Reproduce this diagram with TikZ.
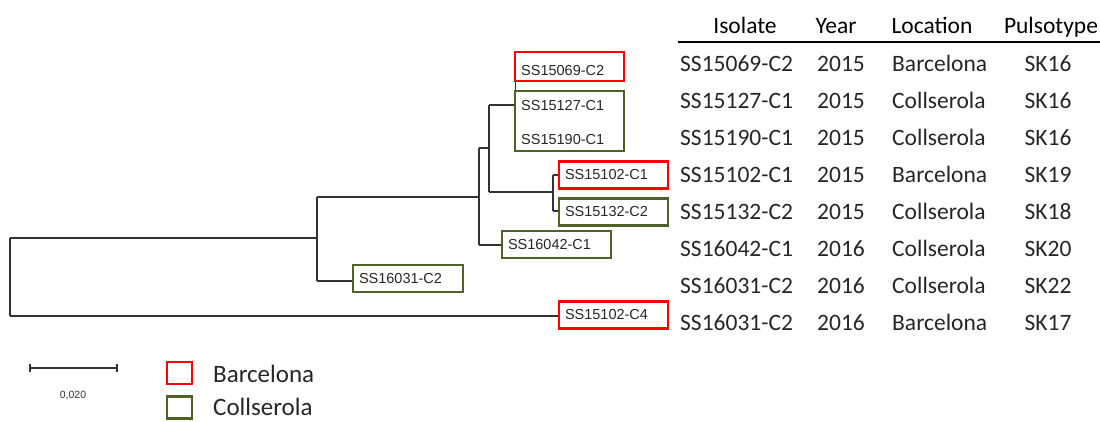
\documentclass[tikz,border=0pt]{standalone}
\usepackage{fontspec}
\setmainfont{Carlito}
\newfontfamily\arialfont{Liberation Sans}
\definecolor{bred}{RGB}{255,0,0}
\definecolor{bgreen}{RGB}{79,98,40}
\begin{document}
\begin{tikzpicture}[x=1pt,y=-1pt,
  tree/.style={draw=black!80, line width=1.2pt},
  leaf/.style={rectangle, line width=2.4pt, inner xsep=6pt, inner ysep=0pt,
    minimum height=27pt, text width=97pt, align=left,
    font=\arialfont\fontsize{14.5}{16}\selectfont, text=black!85},
  redleaf/.style={leaf, draw=bred},
  greenleaf/.style={leaf, draw=bgreen},
  leaftext/.style={anchor=west, inner sep=0pt, font=\arialfont\fontsize{14.5}{16}\selectfont, text=black!85},
  cell/.style={inner sep=0pt, font=\fontsize{23.5}{28}\selectfont, text=black!85},
  head/.style={inner sep=0pt, anchor=base, font=\fontsize{23.5}{28}\selectfont, text=black},
  legbox/.style={rectangle, line width=2.4pt, minimum width=25pt, minimum height=22pt, inner sep=0pt},
  legtext/.style={inner sep=0pt, anchor=base west, font=\fontsize{25}{30}\selectfont, text=black!85}
]
\useasboundingbox (0,0) rectangle (1100,421);

% leaf boxes
\node[redleaf, minimum height=29pt] (b1) at (569.5,66.5) {};
\node[leaftext] (t1) at (521,70.5) {SS15069-C2};
\node[greenleaf, minimum height=60pt] (bG) at (569.5,121) {};
\node[leaftext] (t2) at (521,106) {SS15127-C1};
\node[leaftext] (t3) at (521,140) {SS15190-C1};
\node[redleaf]   (b3) at (613.5,175) {SS15102-C1};
\node[greenleaf] (b4) at (613.5,212) {SS15132-C2};
\node[greenleaf] (b5) at (556.5,244.5) {SS16042-C1};
\node[greenleaf, text width=98pt] (b6) at (408,278.5) {SS16031-C2};
\node[redleaf]   (b7) at (613.5,315) {SS15102-C4};

% tree coordinates
\coordinate (rA) at (10,238);
\coordinate (rB) at (10,316);
\coordinate (n1A) at (317,197);
\coordinate (n1) at (317,238);
\coordinate (n1B) at (317,281);
\coordinate (n2A) at (479,148);
\coordinate (n2) at (479,197);
\coordinate (n2B) at (479,245);
\coordinate (n3A) at (489,105);
\coordinate (n3) at (489,148);
\coordinate (n3B) at (489,192);
\coordinate (n4A) at (553,175);
\coordinate (n4) at (553,192);
\coordinate (n4B) at (553,211);

\draw[tree] (rA) -- (rB);
\draw[tree] (rA) -- (n1);
\draw[tree] (rB) -- (rB -| b7.west);
\draw[tree] (n1A) -- (n1B);
\draw[tree] (n1B) -- (n1B -| b6.west);
\draw[tree] (n1A) -- (n2);
\draw[tree] (n2A) -- (n2B);
\draw[tree] (n2B) -- (n2B -| b5.west);
\draw[tree] (n2A) -- (n3);
\draw[tree] (n3A) -- (n3B);
\draw[tree] (n3A) -- (n3A -| bG.west);
\draw[tree] (n3B) -- (n4);
\draw[tree] (n4A) -- (n4B);
\draw[tree] (n4A) -- (n4A -| b3.west);
\draw[tree] (n4B) -- (n4B -| b4.west);
\draw[tree] ([xshift=1.5pt]b1.south west) -- ([xshift=1.5pt]bG.north west);

% table
\node[head] (hIso) at (745,33) {Isolate};
\node[head] (hYear) at (836,33) {Year};
\node[head] (hLoc) at (932,33) {Location};
\node[head] (hPul) at (1051,33) {Pulsotype};
\coordinate (hl) at (678,42);
\coordinate (hr) at (1100,42);
\draw[line width=2.5pt] (hl) -- (hr);

\foreach \iso/\yr/\loc/\pt [count=\i] in {
  SS15069-C2/2015/Barcelona/SK16,
  SS15127-C1/2015/Collserola/SK16,
  SS15190-C1/2015/Collserola/SK16,
  SS15102-C1/2015/Barcelona/SK19,
  SS15132-C2/2015/Collserola/SK18,
  SS16042-C1/2016/Collserola/SK20,
  SS16031-C2/2016/Collserola/SK22,
  SS16031-C2/2016/Barcelona/SK17} {
  \node[cell, anchor=base west] (iso\i) at (680,34+37*\i) {\iso};
  \node[cell, anchor=base west] (yr\i) at (817,34+37*\i) {\yr};
  \node[cell, anchor=base west] (loc\i) at (892,34+37*\i) {\loc};
  \node[cell, anchor=base] (pt\i) at (1048,34+37*\i) {\pt};
}

% scale bar
\coordinate (sL) at (30,368);
\coordinate (sR) at (117,368);
\draw[tree] (sL) -- (sR);
\draw[tree] ([yshift=-4pt]sL) -- ([yshift=4pt]sL);
\draw[tree] ([yshift=-4pt]sR) -- ([yshift=4pt]sR);
\node[inner sep=0pt, font=\arialfont\fontsize{10.5}{12}\selectfont, text=black!80] (scl) at (73,395) {0,020};

% legend
\node[legbox, draw=bred] (legR) at (179.5,373) {};
\node[legbox, draw=bgreen] (legG) at (179.5,407.5) {};
\node[legtext] (legRt) at (213,382) {Barcelona};
\node[legtext] (legGt) at (213,415.5) {Collserola};
\end{tikzpicture}
\end{document}
